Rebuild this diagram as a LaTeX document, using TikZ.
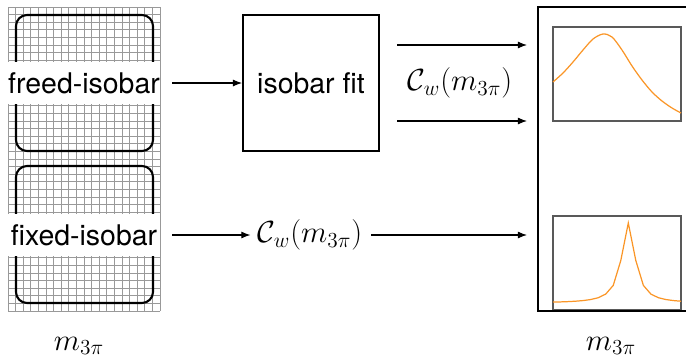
\RequirePackage{fix-cm}
\documentclass[tikz,border=0pt]{standalone}
\usepackage{amsmath, amssymb}
\usepackage{fontspec}
\setsansfont{TeX Gyre Heros}
\usepackage{tikz}
\usetikzlibrary{calc, arrows.meta}
\usepackage{tkz-euclide}
\definecolor{fitorange}{RGB}{250,150,40}
\tikzset{
    isolabel/.style={font=\fontsize{16.2}{19}\sffamily, fill=white, inner sep=0pt,
        minimum width=3.04cm, minimum height=0.84cm},
    masslabel/.style={font=\fontsize{17.4}{20}\selectfont, inner sep=0pt},
    flow/.style={-{Latex[length=5.2pt, width=4pt]}, line width=0.6pt},
    cellline/.style={gray!80, line width=0.55pt},
    binframe/.style={black!65, line width=0.8pt}
}
\begin{document}
\begin{tikzpicture}[x=0.02cm, y=-0.02cm]
                \useasboundingbox (0,0) rectangle (686,359);
                \foreach \i in {0,...,20}
                    \draw[cellline] ({8+7.6*\i},7) -- ({8+7.6*\i},311);
                \foreach \j in {0,...,40}
                    \draw[cellline] (8,{7+7.6*\j}) -- (160,{7+7.6*\j});
                \draw[line width=1.2pt, rounded corners=0.22cm] (16,15) rectangle (153,151);
                \draw[line width=1.2pt, rounded corners=0.22cm] (16,166) rectangle (153,303);
                \node[isolabel] (freed) at (84,83) {freed-isobar};
                \node[isolabel] (fixed) at (84,235) {fixed-isobar};
                \node[draw, line width=1.1pt, minimum size=2.72cm,
                    font=\fontsize{16.2}{19}\sffamily] (fit) at (311,83) {isobar fit};
                \node[masslabel] (cwfit) at (460,83) {$\mathcal{C}_w(m_{3\pi})$};
                \node[masslabel] (cwfix) at (310,235) {$\mathcal{C}_w(m_{3\pi})$};
                \node[masslabel] (mleft) at (79,346) {$m_{3\pi}$};
                \node[masslabel] (mright) at (611,346) {$m_{3\pi}$};
                \tkzDefPoints{397/45/U1, 527/45/U2, 397/121/V1, 527/121/V2, 527/235/W2}
                \tkzDefPoints{688/7/R1, 538/7/R2, 538/311/R3, 688/311/R4}
                \draw[flow, shorten <=6.8pt] (freed.east) -- (fit.west);
                \draw[flow] (U1) -- (U2);
                \draw[flow] (V1) -- (V2);
                \draw[flow, shorten <=6.8pt, shorten >=4pt] (fixed.east) -- (cwfix.west);
                \draw[flow, shorten <=5pt] (cwfix.east) -- (W2);
                \draw[binframe] (553,27) rectangle (681,121);
                \draw[binframe] (553,216) rectangle (681,310);
                \draw[fitorange, line width=0.7pt] plot[smooth] coordinates {(553,82) (563,73) (573,62)
                    (583,50) (593,39) (603,34) (612,37) (622,50) (632,66) (642,80) (652,92)
                    (662,101) (672,108) (681,113)};
                \draw[fitorange, line width=0.7pt] plot[domain=0:17, samples=18]
                    ({553+7.53*\x}, {303-80/(1+((7.53*\x-75.3)/8)^2)});
                \draw[line width=1.4pt] (R1) -- (R2) -- (R3) -- (R4);
            \end{tikzpicture}
\end{document}
